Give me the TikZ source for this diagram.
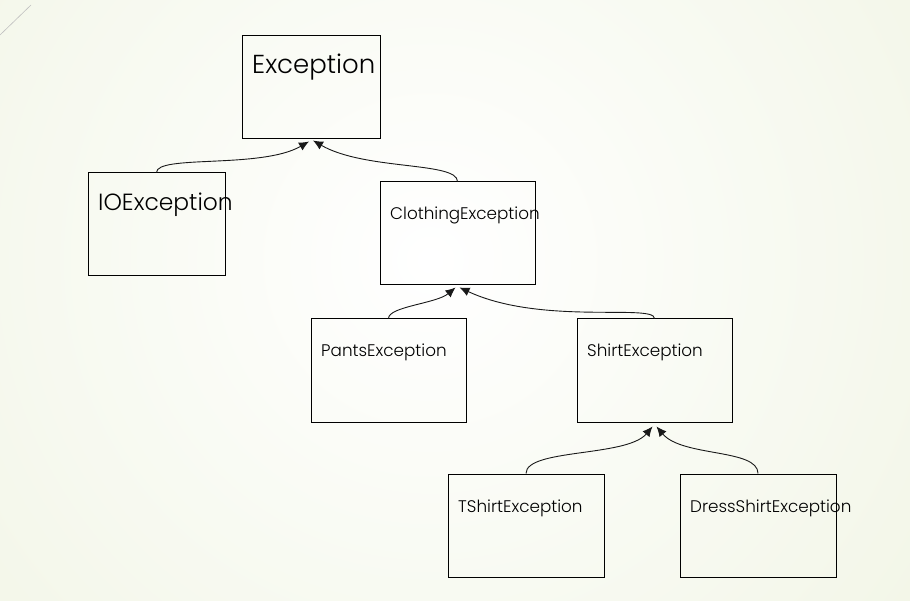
\documentclass[tikz,border=0pt]{standalone}
\usepackage{fontspec}
\setmainfont{Poppins}[UprightFont=*-Light]
\usetikzlibrary{arrows.meta,positioning}
\definecolor{bgedge}{RGB}{230,237,208}

\begin{document}
\begin{tikzpicture}[x=1pt,y=1pt,
    box/.style={draw=black,line width=1pt,inner sep=0pt,minimum height=103pt},
    lbl/.style={anchor=base west,inner sep=0pt,font=\fontsize{16.8}{19}\selectfont},
    mid/.style={lbl,font=\fontsize{23.4}{26}\selectfont},
    big/.style={lbl,font=\fontsize{26}{29}\selectfont},
    isa/.style={draw=black!90,line width=0.9pt,-{Latex[length=10pt,width=9pt]}}]
  % slide background
  \useasboundingbox (0,0) rectangle (910,-601);
  \begin{scope}
    \clip (0,0) rectangle (910,-601);
    \shade[inner color=white,outer color=bgedge] (430,-260) circle (1200);
  \end{scope}
  \draw[black!25,line width=0.6pt] (0,-35) -- (31,-5);
  % class boxes
  \foreach \nm/\x/\y/\w/\st/\txt in {exc/311/87.5/138/big/Exception,
      ioe/156.5/224.5/137/mid/IOException,
      clo/457.5/233.5/155/lbl/ClothingException,
      pnt/388.5/370.5/155/lbl/PantsException,
      shi/654.5/370.5/155/lbl/ShirtException,
      tsh/526/525.5/156/lbl/TShirtException,
      dsh/758/525.5/156/lbl/DressShirtException}
  {
    \node[box,minimum width=\w pt] (\nm) at (\x,-\y) {};
    \node[\st] (\nm-t) at ([shift={(10.5,-38.5)}]\nm.north west) {\txt};
  }
  % inheritance arrows
  \draw[isa] (ioe.north) to[out=90,in=-150,out distance=18pt,in distance=55pt] ([shift={(-2,-2)}]exc.south);
  \draw[isa] (clo.north) to[out=90,in=-30,out distance=20pt,in distance=60pt] ([shift={(2,-1)}]exc.south);
  \draw[isa] (pnt.north) to[out=90,in=-140,out distance=12pt,in distance=25pt] ([shift={(-2,-2)}]clo.south);
  \draw[isa] (shi.north) to[out=90,in=-25,out distance=15pt,in distance=90pt] ([shift={(2,-2)}]clo.south);
  \draw[isa] (tsh.north) to[out=90,in=-130,out distance=25pt,in distance=40pt] ([shift={(-2,-4)}]shi.south);
  \draw[isa] (dsh.north) to[out=90,in=-50,out distance=25pt,in distance=40pt] ([shift={(2,-4)}]shi.south);
\end{tikzpicture}
\end{document}
